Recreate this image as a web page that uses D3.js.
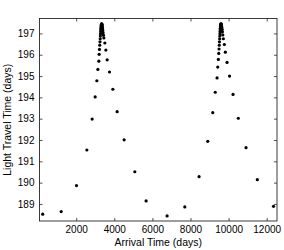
<!DOCTYPE html>
<html><head><meta charset="utf-8">
<script src="https://cdn.jsdelivr.net/npm/d3@7"></script>
<style>
body{margin:0;background:#fff;}
text{font-family:"Liberation Sans",Arial,Helvetica,sans-serif;}
</style></head>
<body><svg id="c" width="284" height="250"></svg>
<script>
// Arrival time (days)
const arrival = [243,1213,2016,2561,2839,2996,3085,3138,3190,3206,3222,
  3238,3250,3260,3270,3278,3286,3293,3300,3306,3312,3318,3324,3330,3337,3344,3351,3358,3366,3375,3386,3398,3412,3430,
  3453,3505,3557,3626,3747,3925,4150,4517,5078,5671,6772,7700,8450,8906,9168,9300,9394,9430,9462,9483,
  9498,9510,9520,9530,9538,9546,9553,9560,9566,9572,9578,9584,9591,9598,9605,9613,9622,9632,9644,9658,9675,
  9694,9724,9777,9829,9918,10049,10233,10511,10914,11507,12357];
// Light travel time (days)
const travel = [188.52,188.64,189.86,191.53,192.98,194.02,194.78,195.31,195.70,196.02,196.25,
  196.45,196.61,196.75,196.88,196.99,197.09,197.17,197.24,197.30,197.35,197.39,197.42,197.44,197.45,197.44,197.42,197.39,197.35,197.29,197.22,197.13,197.03,196.92,
  196.79,196.55,196.22,195.76,195.19,194.38,193.33,192.01,190.51,189.14,188.44,188.86,190.28,191.94,193.28,194.24,194.91,195.42,195.78,196.06,
  196.27,196.45,196.61,196.75,196.88,196.99,197.09,197.17,197.24,197.31,197.36,197.40,197.43,197.45,197.45,197.43,197.40,197.35,197.28,197.19,197.08,
  196.93,196.75,196.48,196.12,195.64,195.00,194.14,193.02,191.64,190.14,188.89];
const xTicks = [2000,4000,6000,8000,10000,12000];
const yTicks = [189,190,191,192,193,194,195,196,197];
const xDomain = [75, 12540];
const yDomain = [188.2, 197.7];

const svg = d3.select("#c");
const m = {l:39.5, t:18.5, r:284-277, b:250-221};
const W = 284, H = 250;
const x = d3.scaleLinear().domain(xDomain).range([m.l, W-m.r]);
const y = d3.scaleLinear().domain(yDomain).range([H-m.b, m.t]);

const col = "#262626";
const fs = "10px";
function style(g, labels){
  g.select(".domain").remove();
  g.selectAll(".tick line").attr("stroke", col).attr("stroke-width", 0.8);
  g.selectAll(".tick text").attr("fill", "#000").style("font-size", fs);
  if(!labels) g.selectAll(".tick text").remove();
}
svg.append("g").attr("transform",`translate(0,${H-m.b})`)
  .call(d3.axisBottom(x).tickValues(xTicks).tickSize(-3).tickPadding(5).tickFormat(d3.format("d")))
  .call(g=>style(g,true));
svg.append("g").attr("transform",`translate(0,${m.t})`)
  .call(d3.axisTop(x).tickValues(xTicks).tickSize(-3))
  .call(g=>style(g,false));
svg.append("g").attr("transform",`translate(${m.l},0)`)
  .call(d3.axisLeft(y).tickValues(yTicks).tickSize(-3).tickPadding(5).tickFormat(d3.format("d")))
  .call(g=>style(g,true));
svg.append("g").attr("transform",`translate(${W-m.r},0)`)
  .call(d3.axisRight(y).tickValues(yTicks).tickSize(-3))
  .call(g=>style(g,false));

svg.append("rect").attr("x",m.l).attr("y",m.t)
  .attr("width",W-m.r-m.l).attr("height",H-m.b-m.t)
  .attr("fill","none").attr("stroke",col).attr("stroke-width",0.9);

svg.append("g").selectAll("circle").data(arrival).join("circle")
  .attr("cx",(d)=>x(d)).attr("cy",(d,i)=>y(travel[i])).attr("r",1.6).attr("fill","#000");

svg.append("text").attr("x",(m.l+W-m.r)/2).attr("y",246)
  .attr("text-anchor","middle").style("font-size","10.5px").text("Arrival Time (days)");
svg.append("text").attr("transform",`translate(11,${(m.t+H-m.b)/2}) rotate(-90)`)
  .attr("text-anchor","middle").style("font-size","10.5px").text("Light Travel Time (days)");
</script></body></html>
